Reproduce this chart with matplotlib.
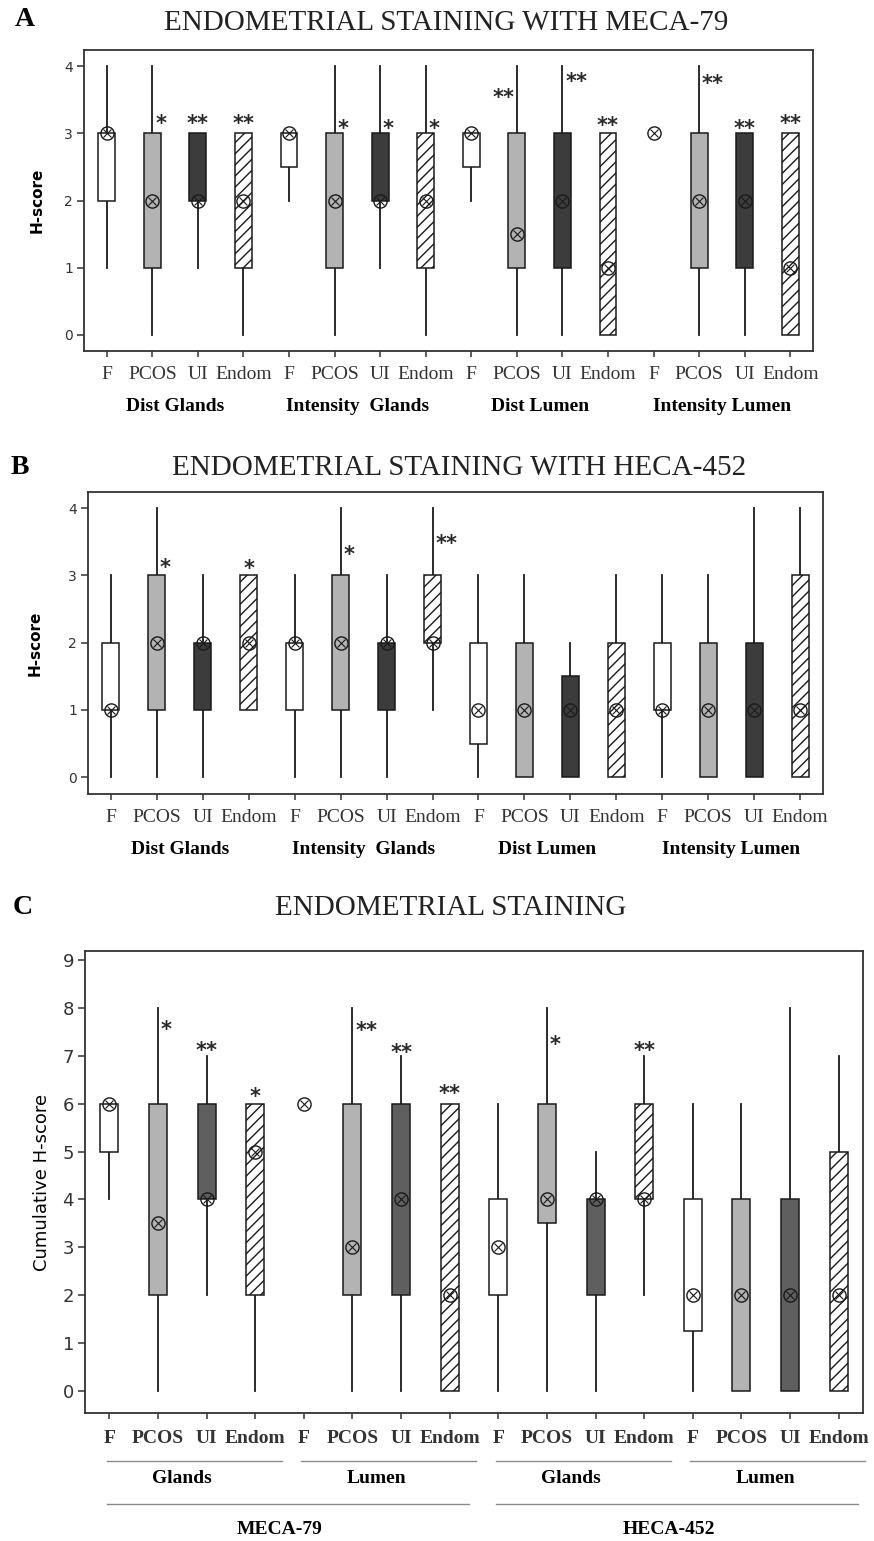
"""Endometrial staining box plots (MECA-79 / HECA-452), three panels."""
import numpy as np
import matplotlib
matplotlib.use("Agg")
import matplotlib.pyplot as plt
import matplotlib.transforms as mtransforms

# ---- data -----------------------------------------------------------------
GROUPS = ["F", "PCOS", "UI", "Endom"]
AB_SECTIONS = ["Dist Glands", "Intensity  Glands", "Dist Lumen", "Intensity Lumen"]
C_SECTIONS = ["Glands", "Lumen", "Glands", "Lumen"]
C_ANTIBODIES = ["MECA-79", "HECA-452"]

# panel A: MECA-79
A_LO = [1, 0, 1, 0, 2, 0, 1, 0, 2, 0, 0, 0, 3, 0, 0, 0]
A_Q1 = [2, 1, 2, 1, 2.5, 1, 2, 1, 2.5, 1, 1, 0, 3, 1, 1, 0]
A_MED = [3, 2, 2, 2, 3, 2, 2, 2, 3, 1.5, 2, 1, 3, 2, 2, 1]
A_Q3 = [3, 3, 3, 3, 3, 3, 3, 3, 3, 3, 3, 3, 3, 3, 3, 3]
A_HI = [4, 4, 3, 3, 3, 4, 4, 4, 3, 4, 4, 3, 3, 4, 3, 3]
A_STARS = ["", "*", "**", "**", "", "*", "*", "*", "", "**", "**", "**", "", "**", "**", "**"]
A_STAR_Y = [0, 3.24, 3.24, 3.24, 0, 3.17, 3.17, 3.17, 0, 3.63, 3.87, 3.21, 0, 3.84, 3.17, 3.24]

# panel B: HECA-452
B_LO = [0, 0, 0, 1, 0, 0, 0, 1, 0, 0, 0, 0, 0, 0, 0, 0]
B_Q1 = [1, 1, 1, 1, 1, 1, 1, 2, 0.5, 0, 0, 0, 1, 0, 0, 0]
B_MED = [1, 2, 2, 2, 2, 2, 2, 2, 1, 1, 1, 1, 1, 1, 1, 1]
B_Q3 = [2, 3, 2, 3, 2, 3, 2, 3, 2, 2, 1.5, 2, 2, 2, 2, 3]
B_HI = [3, 4, 3, 3, 3, 4, 3, 4, 3, 3, 2, 3, 3, 3, 4, 4]
B_STARS = ["", "*", "", "*", "", "*", "", "**", "", "", "", "", "", "", "", ""]
B_STAR_Y = [0, 3.21, 0, 3.19, 0, 3.40, 0, 3.57, 0, 0, 0, 0, 0, 0, 0, 0]

# panel C: cumulative
C_LO = [4, 0, 2, 0, 6, 0, 0, 0, 0, 0, 0, 2, 0, 0, 0, 0]
C_Q1 = [5, 2, 4, 2, 6, 2, 2, 0, 2, 3.5, 2, 4, 1.25, 0, 0, 0]
C_MED = [6, 3.5, 4, 5, 6, 3, 4, 2, 3, 4, 4, 4, 2, 2, 2, 2]
C_Q3 = [6, 6, 6, 6, 6, 6, 6, 6, 4, 6, 4, 6, 4, 4, 4, 5]
C_HI = [6, 8, 7, 6, 6, 8, 7, 6, 6, 8, 5, 7, 6, 6, 8, 7]
C_STARS = ["", "*", "**", "*", "", "**", "**", "**", "", "*", "", "**", "", "", "", ""]
C_STAR_Y = [0, 7.68, 7.24, 6.28, 0, 7.66, 7.2, 6.34, 0, 7.36, 0, 7.24, 0, 0, 0, 0]

# ---- styles ---------------------------------------------------------------
W, H = 874, 1541
SERIF = ["Liberation Serif", "DejaVu Serif"]
SANS = ["DejaVu Sans"]
FILL = {"F": "white", "PCOS": "#b3b3b3", "UI": "#3c3c3c", "Endom": "white"}
UI_C = "#5f5f5f"
HATCH = {"Endom": "///"}
EDGE = "#1a1a1a"
STAR_LEFT = {("A", 9)}
STAR_FS = 15

plt.rcParams["hatch.linewidth"] = 1.0
plt.rcParams["axes.linewidth"] = 1.3


def frac_box(left, top, right, bottom):
    return [left / W, 1 - bottom / H, (right - left) / W, (bottom - top) / H]


def draw_boxes(ax, fig, tag, lo, q1, med, q3, hi, stars, star_y, ui_color):
    n = len(med)
    xs = np.arange(1, n + 1)
    for i, x in enumerate(xs):
        g = GROUPS[i % 4]
        if hi[i] > q3[i]:
            ax.plot([x, x], [q3[i], hi[i]], color=EDGE, lw=1.3, zorder=1)
        if lo[i] < q1[i]:
            ax.plot([x, x], [lo[i], q1[i]], color=EDGE, lw=1.3, zorder=1)
        if q3[i] > q1[i]:
            fc = ui_color if g == "UI" else FILL[g]
            ax.bar(x, q3[i] - q1[i], bottom=q1[i], width=0.37, color=fc,
                   edgecolor=EDGE, linewidth=1.1, hatch=HATCH.get(g), zorder=2)
    ax.plot(xs, med, ls="none", marker="o", ms=9.5, mfc="none", mec=EDGE, mew=1.0, zorder=3)
    ax.plot(xs, med, ls="none", marker="x", ms=5.5, mec=EDGE, mew=0.8, zorder=3)

    off = mtransforms.offset_copy(ax.transData, fig=fig, y=-0.33 * STAR_FS, units="points")
    for i, s in enumerate(stars):
        if not s:
            continue
        x = xs[i]
        if (tag, i) in STAR_LEFT:
            xx, ha = x - 0.06, "right"
        elif star_y[i] < hi[i]:
            xx, ha = x + 0.06, "left"
        else:
            xx, ha = x, "center"
        ax.text(xx, star_y[i], s, ha=ha, va="center", fontsize=STAR_FS,
                fontweight="bold", family=SANS, color="#2a2a2a", transform=off)


def style_axes(ax, n, ymax_tick, ylim, tick_fs, xlab_kw, xpad):
    ax.set_xlim(0.5, n + 0.5)
    ax.set_ylim(*ylim)
    ax.set_yticks(range(0, ymax_tick + 1))
    ax.set_xticks(np.arange(1, n + 1), [GROUPS[i % 4] for i in range(n)], **xlab_kw)
    ax.tick_params(axis="y", length=5, width=1.1, pad=3, labelsize=tick_fs, colors="#333333")
    ax.tick_params(axis="x", length=4, width=1.1, pad=xpad, colors="#333333")
    for lab in ax.get_yticklabels():
        lab.set_family(SANS)
    for sp in ax.spines.values():
        sp.set_color("#333333")


fig = plt.figure(figsize=(W / 100, H / 100), dpi=100)

# ---- panel A -----------------------------------------------------------------
axA = fig.add_axes(frac_box(84, 50, 813, 351))
draw_boxes(axA, fig, "A", A_LO, A_Q1, A_MED, A_Q3, A_HI, A_STARS, A_STAR_Y, FILL["UI"])
style_axes(axA, 16, 4, (-0.24, 4.24), 10,
           dict(fontsize=14, family=SERIF, color="#222222"), 7)
axA.set_ylabel("H-score", fontsize=11, fontweight="bold", family=SANS, labelpad=14)
for k, name in enumerate(AB_SECTIONS):
    axA.text(4 * k + 2.5, -0.185, name, transform=axA.get_xaxis_transform(),
             ha="center", va="center", fontsize=14, fontweight="bold", family=SERIF)
fig.text(25 / W, 1 - 19 / H, "A", ha="center", va="center", fontsize=20,
         fontweight="bold", family=SERIF)
fig.text(446 / W, 1 - 23 / H, "ENDOMETRIAL STAINING WITH MECA-79", ha="center",
         va="center", fontsize=21, family=SERIF, color="#222222")

# ---- panel B -----------------------------------------------------------------
axB = fig.add_axes(frac_box(88, 492, 823, 794))
draw_boxes(axB, fig, "B", B_LO, B_Q1, B_MED, B_Q3, B_HI, B_STARS, B_STAR_Y, FILL["UI"])
style_axes(axB, 16, 4, (-0.25, 4.24), 10,
           dict(fontsize=14, family=SERIF, color="#222222"), 7)
axB.set_ylabel("H-score", fontsize=11, fontweight="bold", family=SANS, labelpad=18)
for k, name in enumerate(AB_SECTIONS):
    axB.text(4 * k + 2.5, -0.185, name, transform=axB.get_xaxis_transform(),
             ha="center", va="center", fontsize=14, fontweight="bold", family=SERIF)
fig.text(20 / W, 1 - 467 / H, "B", ha="center", va="center", fontsize=20,
         fontweight="bold", family=SERIF)
fig.text(459 / W, 1 - 468 / H, "ENDOMETRIAL STAINING WITH HECA-452", ha="center",
         va="center", fontsize=21, family=SERIF, color="#222222")

# ---- panel C -----------------------------------------------------------------
axC = fig.add_axes(frac_box(85, 951, 863, 1413))
draw_boxes(axC, fig, "C", C_LO, C_Q1, C_MED, C_Q3, C_HI, C_STARS, C_STAR_Y, UI_C)
style_axes(axC, 16, 9, (-0.46, 9.19), 13,
           dict(fontsize=14, family=SERIF, fontweight="bold", color="#222222"), 8)
axC.set_ylabel("Cumulative H-score", fontsize=13, family=SANS, labelpad=8)
tr = axC.get_xaxis_transform()
for k, name in enumerate(C_SECTIONS):
    axC.plot([4 * k + 0.95, 4 * k + 4.55], [-0.104, -0.104], transform=tr,
             color="#8a8a8a", lw=1.0, clip_on=False)
    axC.text(4 * k + 2.5, -0.141, name, transform=tr, ha="center", va="center",
             fontsize=14, fontweight="bold", family=SERIF)
for k, name in enumerate(C_ANTIBODIES):
    axC.plot([8 * k + 0.95, 8 * k + 8.4], [-0.197, -0.197], transform=tr,
             color="#8a8a8a", lw=1.0, clip_on=False)
    axC.text(8 * k + 4.5, -0.253, name, transform=tr, ha="center", va="center",
             fontsize=14, fontweight="bold", family=SERIF)
fig.text(23 / W, 1 - 907 / H, "C", ha="center", va="center", fontsize=20,
         fontweight="bold", family=SERIF)
fig.text(451 / W, 1 - 908 / H, "ENDOMETRIAL STAINING", ha="center",
         va="center", fontsize=21, family=SERIF, color="#222222")

fig.savefig("out.png", dpi=100)
plt.close(fig)
